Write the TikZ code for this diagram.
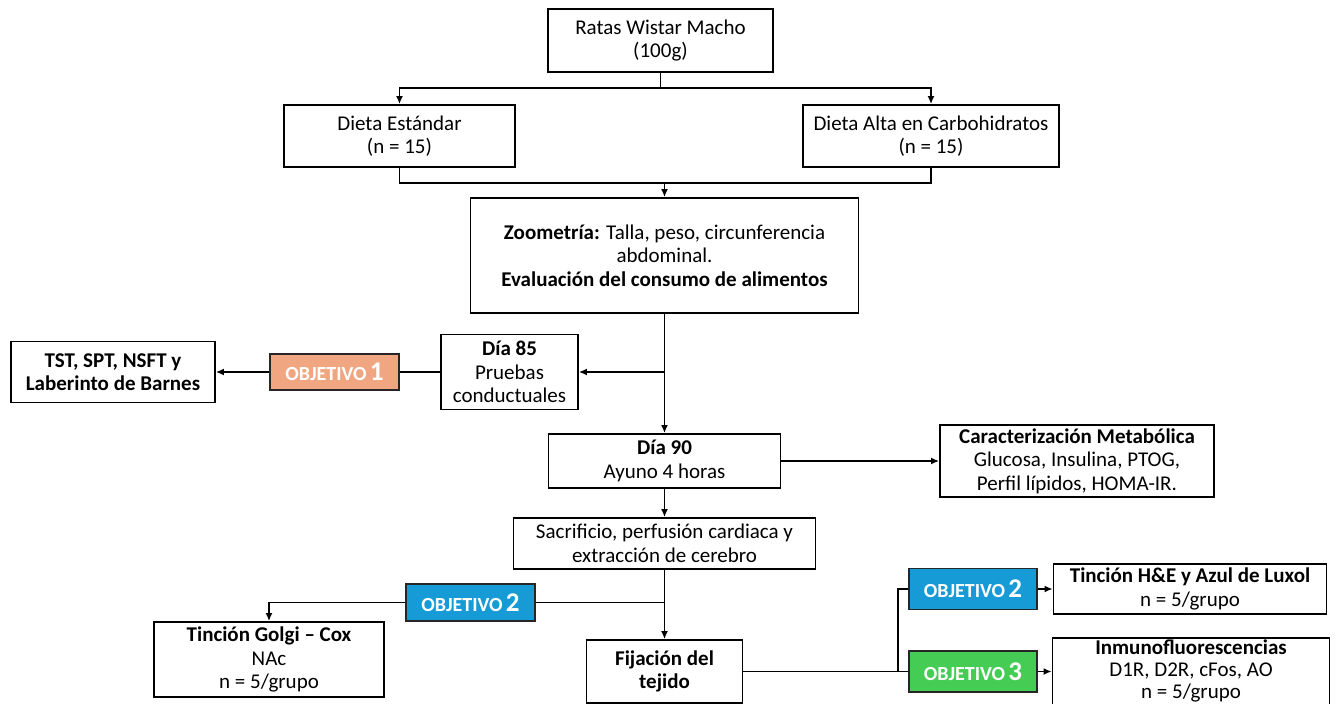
\documentclass[tikz,border=0pt]{standalone}
\usepackage{fontspec}
\setmainfont{Carlito}
\usetikzlibrary{arrows.meta}
\definecolor{salmon}{RGB}{240,166,128}
\definecolor{objblue}{RGB}{22,155,214}
\definecolor{objgreen}{RGB}{68,204,84}
\tikzset{
  box/.style={draw=black, line width=1.8pt, fill=white, align=center, inner sep=0pt,
    font=\fontsize{21}{23.5}\selectfont},
  objbox/.style={draw=black!85, line width=1.8pt, align=center, inner sep=0pt, text=white,
    font=\bfseries\fontsize{20}{22}\selectfont},
  conn/.style={line width=1.8pt, draw=black},
  arr/.style={conn, -{Latex[length=8pt,width=7pt]}}
}
\newcommand{\obj}[1]{OBJETIVO\,{\fontsize{27}{27}\selectfont #1}}
\begin{document}
\begin{tikzpicture}[x=1pt,y=-1pt]
\useasboundingbox (0,0) rectangle (1336,704);
\clip (0,0) rectangle (1336,704);
\fill[white] (0,0) rectangle (1336,704);

\node[box, minimum width=225pt, minimum height=63pt] (ratas) at (660.5,40.5) {Ratas Wistar Macho\\(100g)};
\node[box, minimum width=231pt, minimum height=62pt] (de) at (399.5,136) {Dieta Estándar\\(n = 15)};
\node[box, minimum width=256pt, minimum height=62pt] (da) at (931,136) {Dieta Alta en Carbohidratos\\(n = 15)};
\node[box, minimum width=388pt, minimum height=115pt] (zoo) at (664.5,255.5) {\textbf{Zoometría:} Talla, peso, circunferencia\\abdominal.\\\textbf{Evaluación del consumo de alimentos}};
\node[box, minimum width=137pt, minimum height=75pt] (d85) at (509.5,372) {\textbf{Día 85}\\Pruebas\\conductuales};
\node[objbox, fill=salmon, minimum width=129pt, minimum height=36pt] (obj1) at (334.5,372) {\obj{1}};
\node[box, minimum width=204pt, minimum height=61pt] (tst) at (113,372) {\textbf{TST, SPT, NSFT y}\\\textbf{Laberinto de Barnes}};
\node[box, minimum width=232pt, minimum height=54pt] (d90) at (664.5,461) {\textbf{Día 90}\\Ayuno 4 horas};
\node[box, minimum width=274pt, minimum height=72pt] (car) at (1077,461) {\textbf{Caracterización Metabólica}\\Glucosa, Insulina, PTOG,\\Perfil lípidos, HOMA-IR.};
\node[box, minimum width=302pt, minimum height=51pt] (sac) at (664.5,543.5) {Sacrificio, perfusión cardiaca y\\extracción de cerebro};
\node[objbox, fill=objblue, minimum width=129pt, minimum height=37pt] (obj2a) at (470.5,602.5) {\obj{2}};
\node[box, minimum width=230pt, minimum height=75pt] (golgi) at (269,659.5) {\textbf{Tinción Golgi – Cox}\\NAc\\n = 5/grupo};
\node[box, minimum width=156pt, minimum height=63pt] (fij) at (664.5,671.5) {\textbf{Fijación del}\\\textbf{tejido}};
\node[objbox, fill=objblue, minimum width=128pt, minimum height=41pt] (obj2b) at (973,589) {\obj{2}};
\node[objbox, fill=objgreen, minimum width=128pt, minimum height=41pt] (obj3) at (973,671.5) {\obj{3}};
\node[box, minimum width=273pt, minimum height=50pt] (he) at (1190,589) {\textbf{Tinción H\&E y Azul de Luxol}\\n = 5/grupo};
\node[box, minimum width=277pt, minimum height=80pt, anchor=north] (inm) at (1191,637) {};
\node[align=center, inner sep=0pt, anchor=north, font=\fontsize{21}{22}\selectfont] (inmt) at (1191,640) {\textbf{Inmunofluorescencias}\\D1R, D2R, cFos, AO\\n = 5/grupo};

% connectors
\coordinate (s1) at (660.5,88);
\draw[conn] (ratas.south) -- (s1);
\draw[arr] (s1) -| (de.north);
\draw[arr] (s1) -| (da.north);
\coordinate (m1) at (664.5,183);
\draw[conn] (de.south) |- (m1) -| (da.south);
\draw[arr] (m1) -- (zoo.north);
\draw[arr] (zoo.south) -- (d90.north);
\coordinate (j85) at (zoo.south |- d85.east);
\draw[arr] (j85) -- (d85.east);
\draw[conn] (d85.west) -- (obj1.east);
\draw[arr] (obj1.west) -- (tst.east);
\draw[arr] (d90.east) -- (car.west);
\draw[arr] (d90.south) -- (sac.north);
\draw[arr] (sac.south) -- (fij.north);
\coordinate (j2) at (664.5,602.5);
\draw[conn] (j2) -- (obj2a.east);
\draw[arr] (obj2a.west) -| (golgi.north);
\coordinate (jf) at (898,671.5);
\draw[conn] (fij.east) -- (obj3.west);
\draw[conn] (obj2b.west) -| (jf);
\draw[arr] (obj2b.east) -- (he.west);
\draw[arr] (obj3.east) -- (inm.west |- obj3.east);
\end{tikzpicture}
\end{document}
